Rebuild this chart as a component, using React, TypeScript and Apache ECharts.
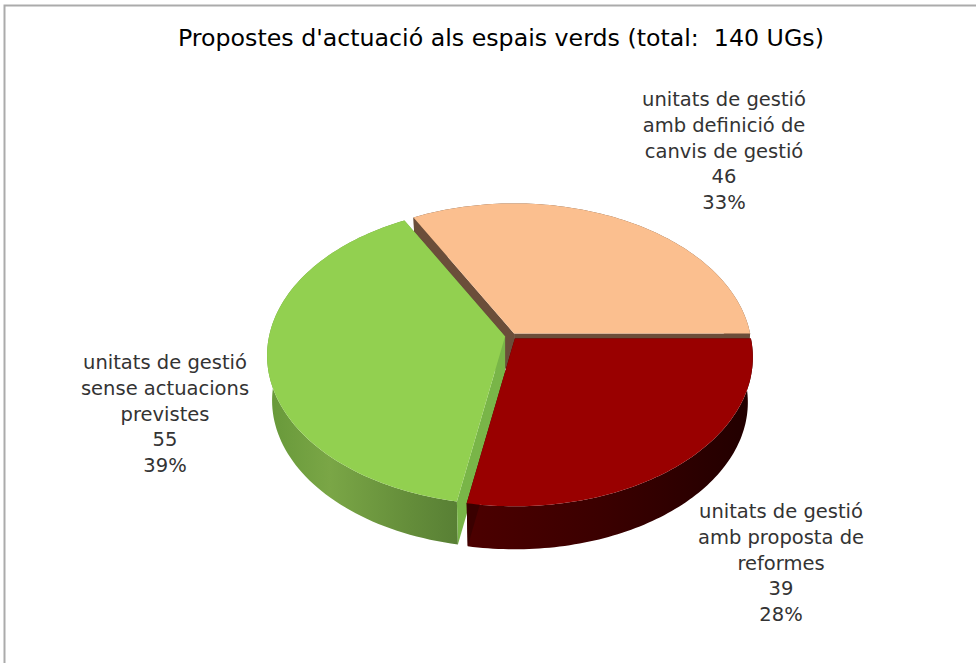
import React, { useEffect, useRef } from "react";
import * as echarts from "echarts";

const TITLE = "Propostes d'actuació als espais verds (total:  140 UGs)";
// Counter-clockwise from the east, the order in which the slices stack back to front.
const CATEGORIES = [
  "unitats de gestió\namb definició de\ncanvis de gestió",
  "unitats de gestió\nsense actuacions\nprevistes",
  "unitats de gestió\namb proposta de\nreformes",
];
const VALUES = [46, 55, 39];

const TOP_COLORS = ["#FBBF8F", "#92D050", "#990000"];
const CUT_COLORS = ["#6B4E3A", "#79B548", "#3A0000"];
const LABEL_ANCHORS = [
  [724, 151],
  [165, 414],
  [781, 563],
];

const FONT = "'DejaVu Sans', sans-serif";
const TOTAL = VALUES.reduce((s, v) => s + v, 0);

const TOP_PLANE = { cx: 511, cy: 355, rx: 238, ry: 149 };
const BOTTOM_PLANE = { cx: 511, cy: 400, rx: 233, ry: 147 };
const PERSPECTIVE = 0.127;
const EXPLODE = 6;

function project(theta: number, r: number, plane: typeof TOP_PLANE, ox: number, oy: number) {
  const u = r * Math.cos(theta);
  const v = -r * Math.sin(theta);
  const a = PERSPECTIVE;
  const d = 1 - a * v;
  const X = (u * Math.sqrt(1 - a * a)) / d;
  const Y = (v - a) / d;
  return [plane.cx + plane.rx * X + ox, plane.cy + plane.ry * Y + oy];
}

function arc(start: number, end: number, plane: typeof TOP_PLANE, ox: number, oy: number) {
  const pts: number[][] = [];
  const n = 90;
  for (let i = 0; i <= n; i++) {
    pts.push(project(start + ((end - start) * i) / n, 1, plane, ox, oy));
  }
  return pts;
}

function sideFill(index: number) {
  if (index === 1) {
    return new echarts.graphic.LinearGradient(
      270, 0, 470, 0,
      [
        { offset: 0, color: "#68993A" },
        { offset: 0.3, color: "#7AA646" },
        { offset: 0.7, color: "#648D3A" },
        { offset: 1, color: "#557C33" },
      ],
      true
    );
  }
  if (index === 2) {
    return new echarts.graphic.LinearGradient(
      465, 0, 750, 0,
      [
        { offset: 0, color: "#4C0000" },
        { offset: 0.5, color: "#3A0000" },
        { offset: 1, color: "#220000" },
      ],
      true
    );
  }
  return CUT_COLORS[index];
}

export default function App() {
  const ref = useRef<HTMLDivElement>(null);

  useEffect(() => {
    document.body.style.margin = "0";
    const chart = echarts.init(ref.current!, null, { renderer: "svg" });
    const renderItem = (params: any, api: any) => {
      const i = params.dataIndex;
      const value = api.value(0) as number;
      const before = VALUES.slice(0, i).reduce((s, v) => s + v, 0);
      const a0 = (before / TOTAL) * Math.PI * 2;
      const a1 = ((before + value) / TOTAL) * Math.PI * 2;
      const mid = (a0 + a1) / 2;
      const ox = EXPLODE * Math.cos(mid);
      const oy = -EXPLODE * 0.5 * Math.sin(mid);

      const topArc = arc(a0, a1, TOP_PLANE, ox, oy);
      const botArc = arc(a0, a1, BOTTOM_PLANE, ox, oy);
      const apexTop = project(0, 0, TOP_PLANE, ox, oy);
      const apexBot = project(0, 0, BOTTOM_PLANE, ox, oy);

      const poly = (points: number[][], fill: any) => ({
        type: "polygon",
        shape: { points },
        style: { fill },
        silent: true,
      });

      return {
        type: "group",
        children: [
          poly([...topArc, ...botArc.slice().reverse()], sideFill(i)),
          poly([apexTop, topArc[0], botArc[0], apexBot], CUT_COLORS[i]),
          poly(
            [apexTop, topArc[topArc.length - 1], botArc[botArc.length - 1], apexBot],
            CUT_COLORS[i]
          ),
          poly([apexTop, ...topArc], TOP_COLORS[i]),
        ],
      };
    };

    const labelItem = (params: any, api: any) => {
      const i = params.dataIndex;
      const value = api.value(0) as number;
      const pct = Math.round((value / TOTAL) * 100);
      return {
        type: "text",
        x: LABEL_ANCHORS[i][0],
        y: LABEL_ANCHORS[i][1],
        silent: true,
        style: {
          text: `${CATEGORIES[i]}\n${value}\n${pct}%`,
          textAlign: "center",
          textVerticalAlign: "middle",
          fontFamily: FONT,
          fontSize: 19.5,
          lineHeight: 25.6,
          fill: "#333333",
        },
      };
    };

    chart.setOption({
      animation: false,
      backgroundColor: "#ffffff",
      title: {
        text: TITLE,
        left: 173,
        top: 21,
        textStyle: {
          fontFamily: FONT,
          fontSize: 23.7,
          fontWeight: "normal",
          color: "#000000",
        },
      },
      graphic: [
        {
          type: "rect",
          silent: true,
          shape: { x: 4.5, y: 5.5, width: 1100, height: 900 },
          style: { fill: "none", stroke: "#ABABAB", lineWidth: 2 },
        },
      ],
      series: [
        {
          type: "custom",
          coordinateSystem: "none",
          renderItem,
          data: VALUES.map((v) => [v]),
          silent: true,
          z: 2,
        },
        {
          type: "custom",
          coordinateSystem: "none",
          renderItem: labelItem,
          data: VALUES.map((v) => [v]),
          silent: true,
          z: 3,
        },
      ],
    });
    return () => chart.dispose();
  }, []);

  return <div ref={ref} style={{ width: 976, height: 663 }} />;
}
